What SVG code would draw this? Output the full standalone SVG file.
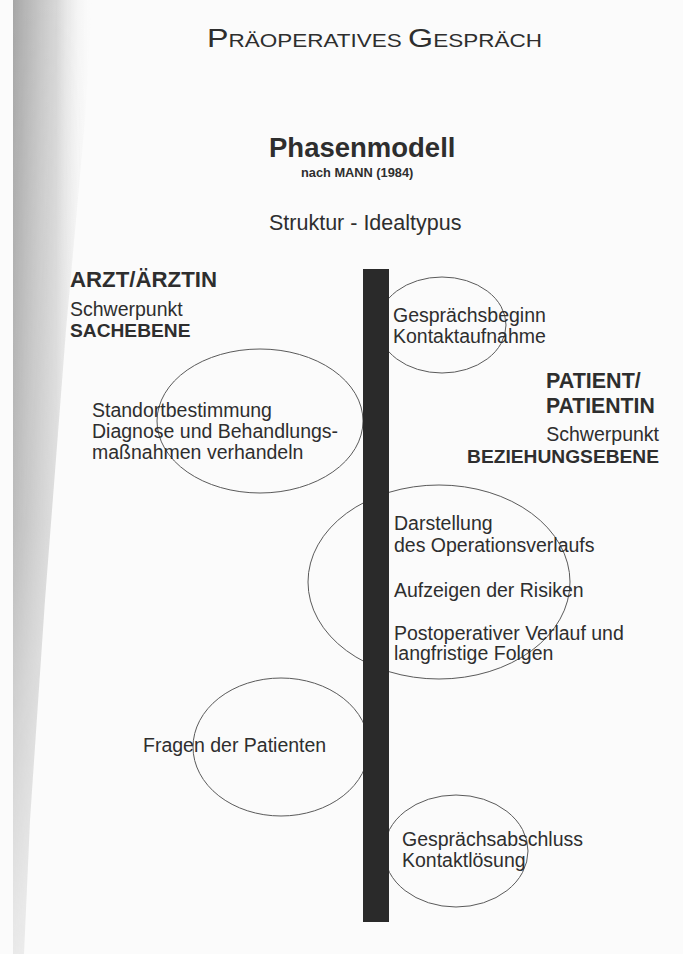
<svg xmlns="http://www.w3.org/2000/svg" width="683" height="954" viewBox="0 0 683 954">
<defs>
<linearGradient id="scan" x1="0" y1="0" x2="1" y2="0">
<stop offset="0" stop-color="#9c9c9c" stop-opacity="0.9"/>
<stop offset="0.55" stop-color="#bdbdbd" stop-opacity="0.6"/>
<stop offset="1" stop-color="#f5f5f5" stop-opacity="0"/>
</linearGradient>
<linearGradient id="vfade" x1="0" y1="0" x2="0" y2="1">
<stop offset="0" stop-color="#fff"/>
<stop offset="0.55" stop-color="#bbb"/>
<stop offset="1" stop-color="#333"/>
</linearGradient>
<mask id="m" maskUnits="userSpaceOnUse" x="0" y="0" width="683" height="954">
<rect x="0" y="0" width="683" height="954" fill="url(#vfade)"/>
</mask>
</defs>
<style>
text{font-family:"Liberation Sans",Arial,sans-serif;fill:#2e2e2e}
.b{font-weight:bold}
.t{font-size:19.5px}
.r{text-anchor:end}
.phase{fill:none;stroke:#5a5a5a;stroke-width:1}
</style>
<rect width="683" height="954" fill="#fbfbfb"/>
<path d="M13,0 L92,0 L85,120 L66,330 L45,600 L30,820 L24,954 L13,954 Z" fill="url(#scan)" mask="url(#m)"/>

<g id="header">
<text x="207" y="47" textLength="335" lengthAdjust="spacingAndGlyphs"><tspan font-size="26.5">P</tspan><tspan font-size="18.5">RÄOPERATIVES </tspan><tspan font-size="26.5">G</tspan><tspan font-size="18.5">ESPRÄCH</tspan></text>
<text class="b" x="269" y="157" font-size="27.5">Phasenmodell</text>
<text class="b" x="301" y="177" font-size="12.8">nach MANN (1984)</text>
<text x="269" y="230" font-size="21.5">Struktur - Idealtypus</text>
</g>

<g id="arzt">
<text class="b" x="70" y="287" font-size="21.5" textLength="147" lengthAdjust="spacingAndGlyphs">ARZT/ÄRZTIN</text>
<text x="70" y="316" font-size="19.5">Schwerpunkt</text>
<text class="b" x="70" y="337" font-size="19.2">SACHEBENE</text>
</g>

<g id="patient">
<text class="b" x="546" y="388" font-size="21.5">PATIENT/</text>
<text class="b" x="546" y="413" font-size="21.2">PATIENTIN</text>
<text class="r" x="659" y="441" font-size="19.5">Schwerpunkt</text>
<text class="b r" x="659" y="463" font-size="19.2">BEZIEHUNGSEBENE</text>
</g>

<g id="phase1">
<ellipse class="phase" cx="442" cy="325" rx="64" ry="48"/>
<text class="t" x="393" y="322">Gesprächsbeginn</text>
<text class="t" x="393" y="343">Kontaktaufnahme</text>
</g>

<g id="phase2">
<ellipse class="phase" cx="260" cy="421" rx="103" ry="72"/>
<text class="t" x="92" y="417">Standortbestimmung</text>
<text class="t" x="92" y="438">Diagnose und Behandlungs-</text>
<text class="t" x="92" y="459">maßnahmen verhandeln</text>
</g>

<g id="phase3">
<ellipse class="phase" cx="439" cy="582" rx="131" ry="97"/>
<text class="t" x="394" y="530">Darstellung</text>
<text class="t" x="394" y="552">des Operationsverlaufs</text>
<text class="t" x="394" y="597">Aufzeigen der Risiken</text>
<text class="t" x="394" y="640">Postoperativer Verlauf und</text>
<text class="t" x="394" y="660">langfristige Folgen</text>
</g>

<g id="phase4">
<ellipse class="phase" cx="281" cy="747" rx="88" ry="69"/>
<text class="t" x="143" y="752">Fragen der Patienten</text>
</g>

<g id="phase5">
<ellipse class="phase" cx="456" cy="851" rx="72" ry="56"/>
<text class="t" x="402" y="846">Gesprächsabschluss</text>
<text class="t" x="402" y="867">Kontaktlösung</text>
</g>

<g id="timeline">
<rect x="363" y="269" width="26" height="653" fill="#2a2a2a"/>
</g>
<g id="connectors"/>
</svg>
